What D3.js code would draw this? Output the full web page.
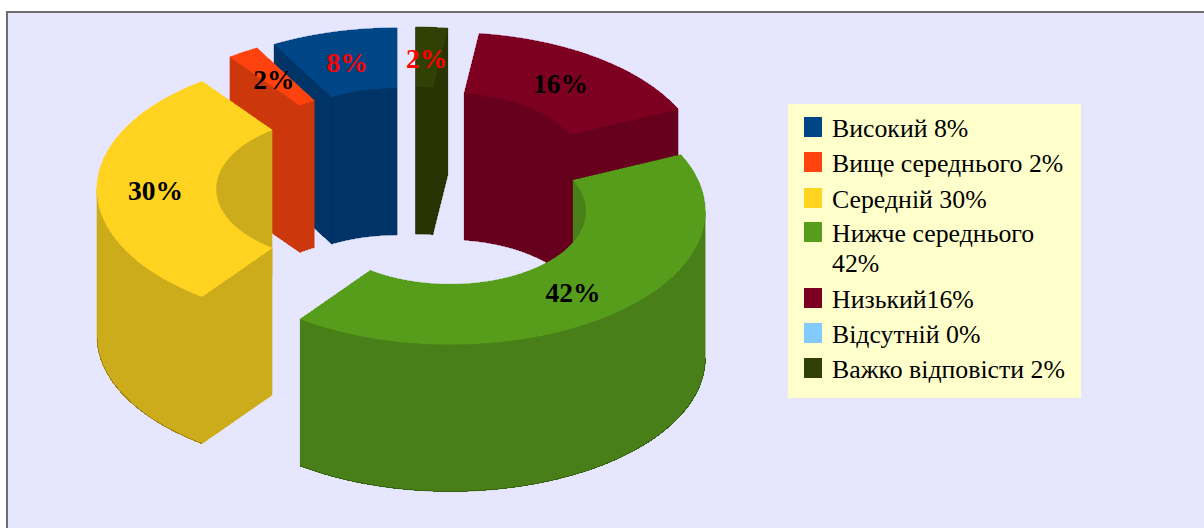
<!DOCTYPE html>
<html><head><meta charset="utf-8">
<script src="https://cdn.jsdelivr.net/npm/d3@7/dist/d3.min.js"></script>
<style>html,body{margin:0;padding:0;background:#fff}svg{display:block}</style>
</head><body><svg id="c" width="1204" height="528"></svg>
<script>
const categories = ["Високий 8%","Вище середнього 2%","Середній 30%","Нижче середнього 42%","Низький16%","Відсутній 0%","Важко відповісти 2%"];
const legendLines = [["Високий 8%"],["Вище середнього 2%"],["Середній 30%"],["Нижче середнього","42%"],["Низький16%"],["Відсутній 0%"],["Важко відповісти 2%"]];
const values = [8,2,30,42,16,0,2];
const labels = ["8%","2%","30%","42%","16%",null,"2%"];
const topColors = ["#004586","#ff420e","#ffd320","#579d1c","#7e0021","#83caff","#314004"];
const wallColors = ["#003366","#cc380c","#ccac1a","#487f18","#66001c","#6aa3cc","#293303"];
const labelColors = ["#ff0000","#000000","#000000","#000000","#000000","#000000","#ff0000"];
const drawOrder = [6,0,4,1,2,3];

const W=1204,H=528, TAU=Math.PI*2;
const svg=d3.select("#c");
svg.append("rect").attr("width",W).attr("height",H).attr("fill","#fff");
svg.append("rect").attr("x",7).attr("y",12).attr("width",W+10).attr("height",H+10).attr("fill","#e6e6ff").attr("stroke","#6e6e6e").attr("stroke-width",2);

// d3.pie runs counter-clockwise from 12 o'clock
const pie=d3.pie().value(d=>d).sort(null).startAngle(TAU).endAngle(0);
const slices=pie(values);

const cx0=412, cy0=189, ax=255, by=133, innerK=136/255, innerB=73/133, midX=195/255, midY=103/133, depth=147, exA=60, exB=29;
const sx=d3.scaleLinear().domain([-1,1]).range([-ax,ax]);
const sy=d3.scaleLinear().domain([-1,1]).range([-by,by]);

function pt(t,kx,ky,off,z){ return [off[0]+sx(Math.sin(t)*kx), off[1]+sy(-Math.cos(t)*ky)+z]; }
function ring(t,inner,off,z){ return inner?pt(t,innerK,innerB,off,z):pt(t,1,1,off,z); }
function samples(a,b){return d3.range(0,61).map(i=>a+(b-a)*i/60);}
function offset(mid){return [cx0+exA*Math.sin(mid), cy0-exB*Math.cos(mid)];}
const line=d3.line();
function poly(g,pts,fill){
  g.append("path").attr("d",line(pts)+"Z").attr("fill",fill)
   .attr("stroke",fill).attr("stroke-width",0.6).attr("stroke-linejoin","round")
   .attr("shape-rendering","crispEdges");
}
function clampArc(a,b,lo,hi){const s=Math.max(a,lo),e=Math.min(b,hi);return s<e?[s,e]:null;}

const root=svg.append("g");
drawOrder.forEach(i=>{
  const d=slices[i];
  const t0=d.endAngle, t1=d.startAngle;
  const off=offset((t0+t1)/2);
  const g=root.append("g");
  const wall=wallColors[i], top=topColors[i];
  const edge=d3.color(wall).darker(0.7).formatHex();
  const cut=(t)=>[ring(t,true,off,0),ring(t,false,off,0),ring(t,false,off,depth),ring(t,true,off,depth)];
  if(-Math.sin(t0)>0) poly(g,cut(t0),wall);
  [[0,Math.PI/2],[Math.PI*1.5,TAU]].forEach(([lo,hi])=>{
    const r=clampArc(t0,t1,lo,hi); if(!r) return;
    const s=samples(r[0],r[1]);
    poly(g,s.map(t=>ring(t,true,off,0)).concat(s.slice().reverse().map(t=>ring(t,true,off,depth))),wall);
  });
  if(Math.sin(t1)>0) poly(g,cut(t1),wall);
  const r=clampArc(t0,t1,Math.PI/2,Math.PI*1.5);
  if(r){
    const s=samples(r[0],r[1]);
    poly(g,s.map(t=>ring(t,false,off,0)).concat(s.slice().reverse().map(t=>ring(t,false,off,depth))),wall);
    g.append("path").attr("d",line(s.map(t=>ring(t,false,off,depth)))).attr("fill","none")
     .attr("stroke",edge).attr("stroke-width",1).attr("shape-rendering","crispEdges");
  }
  const s=samples(t0,t1);
  poly(g,s.map(t=>ring(t,false,off,0)).concat(s.slice().reverse().map(t=>ring(t,true,off,0))),top);
});

// value labels sit at the middle of each top face
const labelFont="'Liberation Serif',serif";
labels.forEach((t,i)=>{
  if(!t) return;
  const d=slices[i], mid=(d.startAngle+d.endAngle)/2;
  const p=pt(mid,midX,midY,offset(mid),11);
  svg.append("text").attr("x",p[0]-1.5).attr("y",p[1]).attr("text-anchor","middle")
    .attr("font-family",labelFont).attr("font-weight","bold").attr("font-size",27.5).attr("fill",labelColors[i]).text(t);
});

// legend
const lg=svg.append("g");
lg.append("rect").attr("x",788).attr("y",104).attr("width",293).attr("height",294).attr("fill","#ffffcc");
const rowY=d3.scaleOrdinal().domain(categories).range([137,172,208,242,308,343,378]);
legendLines.forEach((ls,i)=>{
  const base=rowY(categories[i]);
  lg.append("rect").attr("x",804).attr("y",base-20).attr("width",18).attr("height",20).attr("fill",topColors[i]);
  ls.forEach((s,j)=>lg.append("text").attr("x",832).attr("y",base+j*30).attr("font-family",labelFont).attr("font-size",25.8).attr("fill","#000").text(s));
});
</script></body></html>
